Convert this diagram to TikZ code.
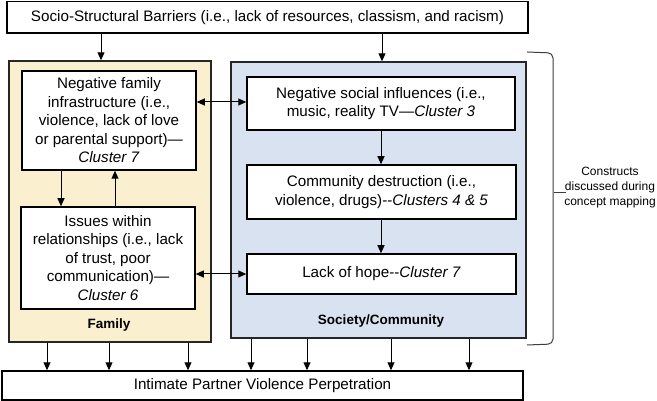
\documentclass[tikz,border=0pt]{standalone}
\usepackage{fontspec}
\setmainfont{Liberation Sans}
\usetikzlibrary{arrows.meta,calc}
\definecolor{famfill}{RGB}{250,240,207}
\definecolor{socfill}{RGB}{217,226,240}
\definecolor{bracegray}{RGB}{60,60,60}
\begin{document}
\begin{tikzpicture}[x=1pt,y=-1pt,
 box/.style={draw=black,line width=1.5pt,fill=white,inner sep=0pt,align=center,font=\fontsize{15.2}{18.5}\selectfont},
 region/.style={draw=black!85,line width=1.4pt,inner sep=0pt},
 arr/.style={line width=1pt,-{Triangle[length=8pt,width=7pt]}},
 darr/.style={line width=1pt,{Triangle[length=8pt,width=7pt]}-{Triangle[length=8pt,width=7pt]}},
 lab/.style={font=\bfseries\fontsize{13.5}{15}\selectfont},
 note/.style={align=center,font=\fontsize{12}{15}\selectfont}]
\useasboundingbox (0,0) rectangle (657,401);

\node[region,fill=famfill,minimum width=202pt,minimum height=281pt] (fam) at (110,201.5) {};
\node[region,fill=socfill,minimum width=295pt,minimum height=276pt] (soc) at (378.5,200) {};

\node[box,minimum width=521pt,minimum height=31.5pt] (top) at (267.5,17.25) {Socio-Structural Barriers (i.e., lack of resources, classism, and racism)};

\node[box,minimum width=174pt,minimum height=99pt] (f1) at (109,120.5) {Negative family\\infrastructure (i.e.,\\violence, lack of love\\or parental support)—\\\textit{Cluster 7}};
\node[box,minimum width=174pt,minimum height=102pt] (f2) at (108,258) {Issues within\\relationships (i.e., lack\\of trust, poor\\communication)—\\\textit{Cluster 6}};

\node[box,minimum width=268pt,minimum height=53pt] (s1) at (381,103.5) {Negative social influences (i.e.,\\music, reality TV—\textit{Cluster 3}};
\node[box,minimum width=269pt,minimum height=54pt] (s2) at (381.5,192) {Community destruction (i.e.,\\violence, drugs)-{}-\textit{Clusters 4 \& 5}};
\node[box,minimum width=269pt,minimum height=40pt] (s3) at (381.5,274) {Lack of hope-{}-\textit{Cluster 7}};

\node[lab] (famlab) at (109,325) {Family};
\node[lab] (soclab) at (381,321) {Society/Community};

\node[box,minimum width=521pt,minimum height=29pt] (bot) at (262.5,385.5) {Intimate Partner Violence Perpetration};

% top arrows
\draw[arr] (top.south -| 101,0) -- (fam.north -| 101,0);
\draw[arr] (top.south -| 382,0) -- (soc.north -| 382,0);

% family internal
\draw[arr] (f1.south -| 61,0) -- (f2.north -| 61,0);
\draw[arr] (f2.north -| 115,0) -- (f1.south -| 115,0);

% society internal
\draw[arr] (s1.south -| 381,0) -- (s2.north -| 381,0);
\draw[arr] (s2.south -| 381,0) -- (s3.north -| 381,0);

% cross links
\draw[darr] (f1.east |- 0,102) -- (s1.west |- 0,102);
\draw[darr] (f2.east |- 0,274) -- (s3.west |- 0,274);

% bottom arrows
\foreach \xx in {47,109,188} \draw[arr] (fam.south -| \xx,0) -- (bot.north -| \xx,0);
\foreach \xx in {251,307,391,469} \draw[arr] (soc.south -| \xx,0) -- (bot.north -| \xx,0);

% brace
\coordinate (bt) at (527,52);
\coordinate (bb) at (527,345);
\coordinate (bm) at (566,193);
\draw[bracegray,line width=1pt,rounded corners=5pt] (bt) -- (553,53) -- (553,344) -- (bb);
\draw[bracegray,line width=1pt] (554,193) -- (bm);
\node[note] (cn) at (610,188) {Constructs\\discussed during\\concept mapping};
\end{tikzpicture}
\end{document}
